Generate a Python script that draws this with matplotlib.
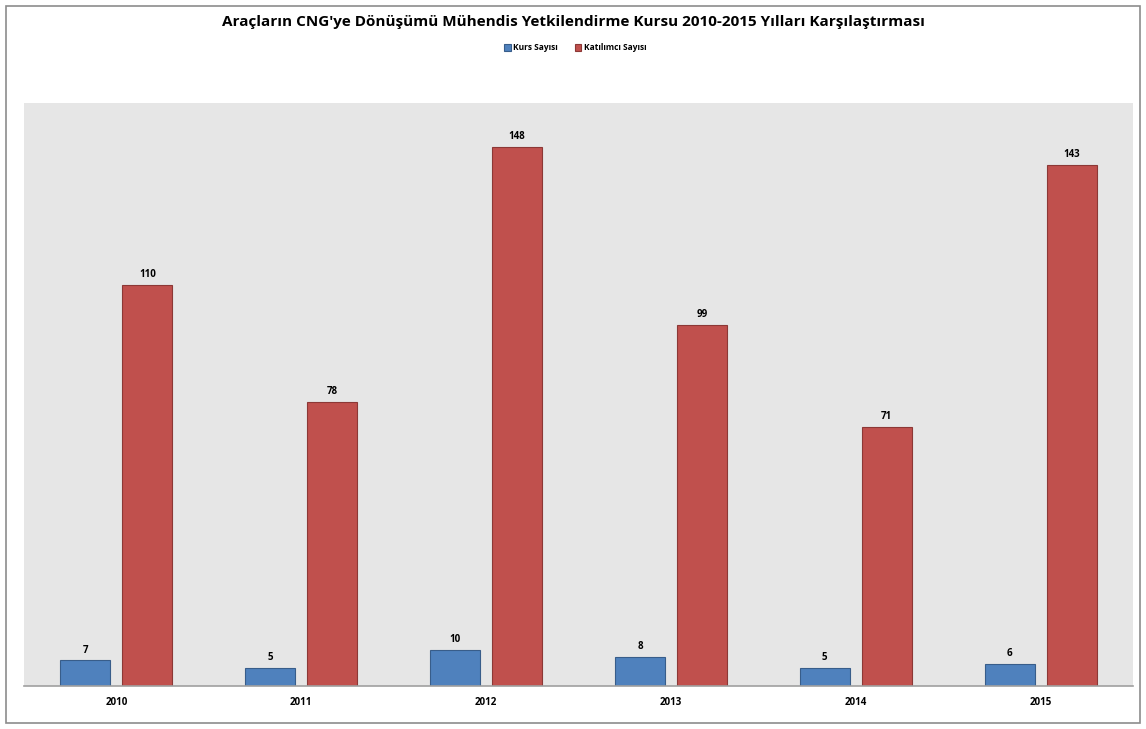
import matplotlib
matplotlib.use("Agg")
import matplotlib.pyplot as plt
from matplotlib.patches import Rectangle
import numpy as np

years = ["2010", "2011", "2012", "2013", "2014", "2015"]
kurs = [7, 5, 10, 8, 5, 6]
katilimci = [110, 78, 148, 99, 71, 143]
series_names = ["Kurs Sayısı", "Katılımcı Sayısı"]
title = "Araçların CNG'ye Dönüşümü Mühendis Yetkilendirme Kursu 2010-2015 Yılları Karşılaştırması"

plt.rcParams['font.family'] = ['Open Sans', 'DejaVu Sans']

W, H = 1146, 729
fig = plt.figure(figsize=(W/100, H/100), dpi=100)
fig.patch.set_facecolor('white')
# outer border
fig.patches.append(Rectangle((6/W, 1 - 723/H), (1140-6)/W, (723-6)/H, transform=fig.transFigure,
                             fill=False, edgecolor='#8c8c8c', linewidth=1.2))

left, right, top, bottom = 24, 1133, 103, 686
ax = fig.add_axes([left/W, 1 - bottom/H, (right-left)/W, (bottom-top)/H])
ax.set_facecolor('#E6E6E6')

x = np.arange(len(years))
bw = 0.27
off = 0.1676
b1 = ax.bar(x - off, kurs, bw, color='#4F81BD', edgecolor='#385D8A', linewidth=0.8, label=series_names[0])
b2 = ax.bar(x + off, katilimci, bw, color='#C0504D', edgecolor='#8C3836', linewidth=0.8, label=series_names[1])

for bars, vals in ((b1, kurs), (b2, katilimci)):
    for r, v in zip(bars, vals):
        ax.annotate(str(v), (r.get_x() + r.get_width()/2, v), xytext=(0, 3.5), textcoords='offset points',
                    ha='center', va='bottom', fontsize=7, fontweight='bold', color='black')

ax.set_xlim(-0.5, len(years) - 0.5)
ax.set_ylim(0, 160)
ax.set_xticks(x)
ax.set_xticklabels(years, fontsize=7, fontweight='bold')
ax.tick_params(axis='x', length=0, pad=8)
ax.set_yticks([])
for s in ['top', 'right', 'left']:
    ax.spines[s].set_visible(False)
ax.spines['bottom'].set_color('#a0a0a0')
ax.spines['bottom'].set_linewidth(1.2)

fig.text(0.5, 1 - 22/H, title, ha='center', va='center', fontsize=11, fontweight='bold')
fig.legend(handles=[b1, b2], labels=series_names, loc='center', bbox_to_anchor=(0.502, 1 - 48/H),
           ncol=2, frameon=False, handlelength=0.8, handleheight=0.8,
           handletextpad=0.3, columnspacing=2.0, prop={'weight': 'bold', 'size': 6})

fig.savefig('out.png', dpi=100)
